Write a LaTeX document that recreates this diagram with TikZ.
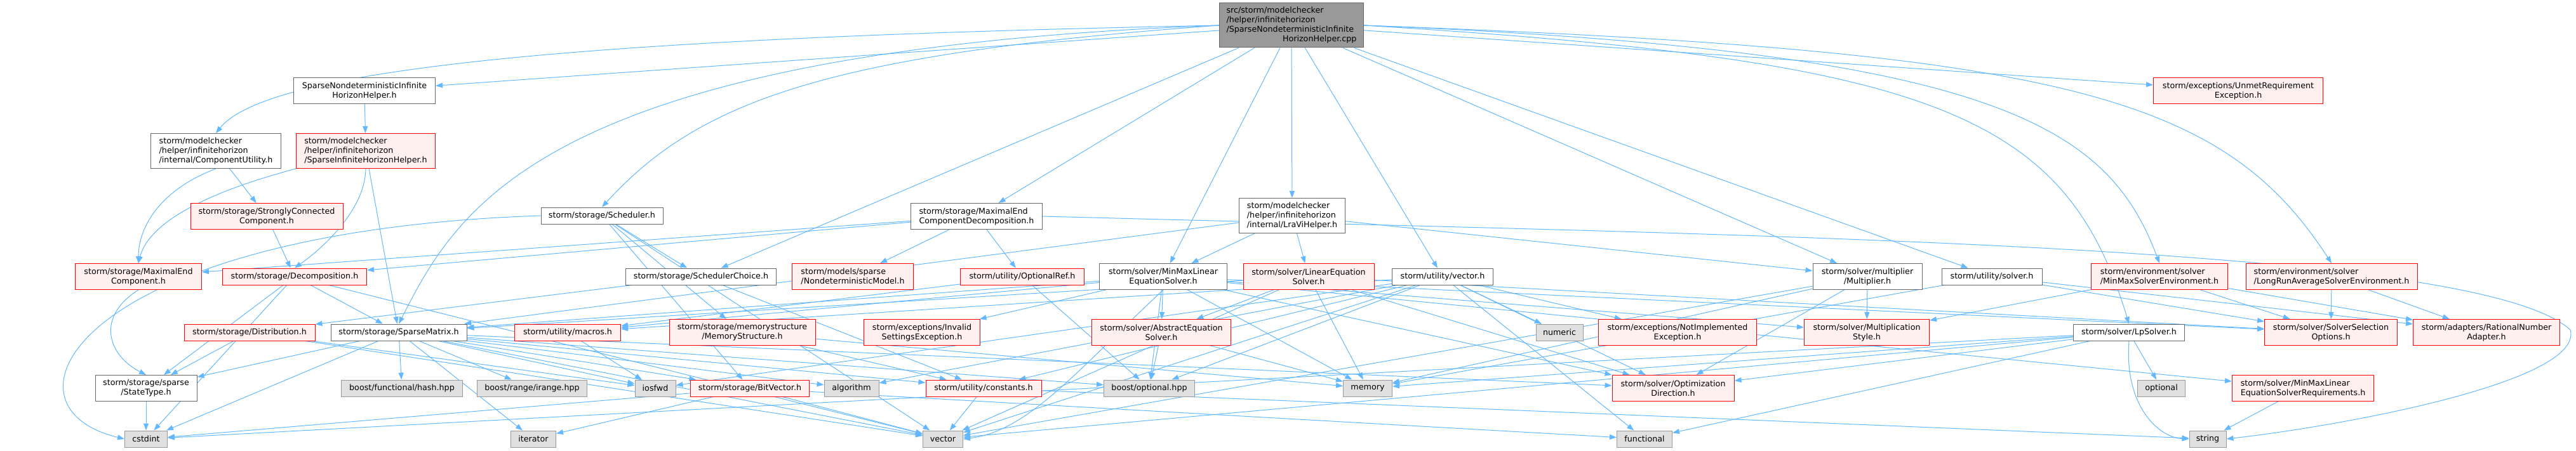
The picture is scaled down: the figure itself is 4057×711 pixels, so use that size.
\documentclass[tikz,border=0pt]{standalone}
\usepackage{fontspec}
\setmainfont{DejaVu Sans}
\usepackage{xcolor}
\usepackage{tikz}
\usetikzlibrary{arrows.meta,backgrounds}
\definecolor{edgeblue}{HTML}{63B8FF}
\definecolor{greyforty}{HTML}{666666}
\definecolor{greysixty}{HTML}{999999}
\definecolor{sysfill}{HTML}{E0E0E0}
\definecolor{redfill}{HTML}{FFF0F0}

\begin{document}
\begin{tikzpicture}[x=1pt,y=-1pt,
  hdr/.style={draw=greyforty,fill=white,line width=1pt,inner sep=0pt,
    minimum height=26pt,align=center,font=\fontsize{12.7}{15}\selectfont},
  redhdr/.style={hdr,draw=red,fill=redfill},
  syshdr/.style={hdr,draw=greysixty,fill=sysfill},
  roothdr/.style={hdr,fill=greysixty},
  two/.style={minimum height=41pt},
  three/.style={minimum height=55pt},
  dep/.style={draw=edgeblue,line width=1pt,-{Triangle[length=11pt,width=8pt]}}]
\useasboundingbox (0,0) rectangle (4057,711);
% row 0 and 1
\node[roothdr,minimum width=227pt,minimum height=70pt,text width=205pt,align=left] (cpp) at (2034,40)
  {src/storm/modelchecker\\/helper/infinitehorizon\\/SparseNondeterministicInfinite\\\hspace*{\fill}HorizonHelper.cpp\hspace*{\fill}};
\node[hdr,two,minimum width=223pt] (snihh) at (574,143) {SparseNondeterministicInfinite\\HorizonHelper.h};
\node[redhdr,two,minimum width=267pt] (unmet) at (3525,143) {storm/exceptions/UnmetRequirement\\Exception.h};
% row 2 and 3
\node[hdr,three,minimum width=205pt,align=left] (cu) at (340,238) {storm/modelchecker\\/helper/infinitehorizon\\/internal/ComponentUtility.h};
\node[redhdr,three,minimum width=219pt,align=left] (sihh) at (576,238) {storm/modelchecker\\/helper/infinitehorizon\\/SparseInfiniteHorizonHelper.h};
\node[redhdr,two,minimum width=240pt] (scc) at (420,341) {storm/storage/StronglyConnected\\Component.h};
\node[hdr,minimum width=192pt] (sched) at (948,340) {storm/storage/Scheduler.h};
\node[hdr,two,minimum width=207pt,align=left] (mecd) at (1538,341) {storm/storage/MaximalEnd\\ComponentDecomposition.h};
\node[hdr,three,minimum width=167pt,align=left] (lravi) at (2035,340) {storm/modelchecker\\/helper/infinitehorizon\\/internal/LraViHelper.h};
% row 4
\node[redhdr,two,minimum width=199pt] (mec) at (218,436) {storm/storage/MaximalEnd\\Component.h};
\node[redhdr,minimum width=227pt] (decomp) at (464,436) {storm/storage/Decomposition.h};
\node[hdr,minimum width=237pt] (schedch) at (1104,436) {storm/storage/SchedulerChoice.h};
\node[redhdr,two,minimum width=191pt,align=left] (nondet) at (1343,436) {storm/models/sparse\\/NondeterministicModel.h};
\node[redhdr,minimum width=195pt] (optref) at (1610,436) {storm/utility/OptionalRef.h};
\node[hdr,two,minimum width=201pt] (minmax) at (1832,436) {storm/solver/MinMaxLinear\\EquationSolver.h};
\node[redhdr,two,minimum width=206pt] (lineq) at (2061,436) {storm/solver/LinearEquation\\Solver.h};
\node[hdr,minimum width=159pt] (uvec) at (2272,436) {storm/utility/vector.h};
\node[hdr,two,minimum width=172pt] (mult) at (2941,436) {storm/solver/multiplier\\/Multiplier.h};
\node[hdr,minimum width=158pt] (usolver) at (3137,436) {storm/utility/solver.h};
\node[redhdr,two,minimum width=215pt,align=left] (mmsenv) at (3401,436) {storm/environment/solver\\/MinMaxSolverEnvironment.h};
\node[redhdr,two,minimum width=270pt,align=left] (lraenv) at (3672,436) {storm/environment/solver\\/LongRunAverageSolverEnvironment.h};
% row 5
\node[redhdr,minimum width=206pt] (distr) at (393,524) {storm/storage/Distribution.h};
\node[hdr,minimum width=214pt] (spmat) at (628,524) {storm/storage/SparseMatrix.h};
\node[redhdr,minimum width=167pt] (macros) at (894,524) {storm/utility/macros.h};
\node[redhdr,two,minimum width=230pt] (memstr) at (1169,524) {storm/storage/memorystructure\\/MemoryStructure.h};
\node[redhdr,two,minimum width=183pt] (invset) at (1452,524) {storm/exceptions/Invalid\\SettingsException.h};
\node[redhdr,two,minimum width=219pt] (abses) at (1829,524) {storm/solver/AbstractEquation\\Solver.h};
\node[syshdr,minimum width=74pt] (numeric) at (2456,524) {numeric};
\node[redhdr,two,minimum width=249pt] (notimpl) at (2642,524) {storm/exceptions/NotImplemented\\Exception.h};
\node[redhdr,two,minimum width=197pt] (multstyle) at (2940,524) {storm/solver/Multiplication\\Style.h};
\node[hdr,minimum width=175pt] (lp) at (3353,524) {storm/solver/LpSolver.h};
\node[redhdr,two,minimum width=209pt] (solvsel) at (3671,524) {storm/solver/SolverSelection\\Options.h};
\node[redhdr,two,minimum width=231pt] (ratnum) at (3916,524) {storm/adapters/RationalNumber\\Adapter.h};
% row 6
\node[hdr,two,minimum width=160pt] (statetype) at (230,612) {storm/storage/sparse\\/StateType.h};
\node[syshdr,minimum width=191pt] (hash) at (633,612) {boost/functional/hash.hpp};
\node[syshdr,minimum width=173pt] (irange) at (838,612) {boost/range/irange.hpp};
\node[syshdr,minimum width=64pt] (iosfwd) at (1032,612) {iosfwd};
\node[redhdr,minimum width=187pt] (bitvec) at (1181,612) {storm/storage/BitVector.h};
\node[syshdr,minimum width=86pt] (algorithm) at (1341,612) {algorithm};
\node[redhdr,minimum width=182pt] (constants) at (1549,612) {storm/utility/constants.h};
\node[syshdr,minimum width=143pt] (boostopt) at (1810,612) {boost/optional.hpp};
\node[syshdr,minimum width=77pt] (memory) at (2154,612) {memory};
\node[redhdr,two,minimum width=192pt] (optdir) at (2635,612) {storm/solver/Optimization\\Direction.h};
\node[syshdr,minimum width=75pt] (optional) at (3404,612) {optional};
\node[redhdr,two,minimum width=223pt,align=left] (mmreq) at (3627,612) {storm/solver/MinMaxLinear\\EquationSolverRequirements.h};
% row 7
\node[syshdr,minimum width=67pt] (cstdint) at (230,692) {cstdint};
\node[syshdr,minimum width=71pt] (iterator) at (840,692) {iterator};
\node[syshdr,minimum width=63pt] (vector) at (1485,692) {vector};
\node[syshdr,minimum width=87pt] (functional) at (2590,692) {functional};
\node[syshdr,minimum width=58pt] (string) at (3477,692) {string};
\begin{scope}[on background layer]
\draw[dep] (cpp)--(snihh);
\draw[dep] (cpp.west) .. controls (900,60) and (420,110) .. (cu.north);
\draw[dep] (cpp.west) .. controls (850,80) and (720,330) .. (spmat.north);
\draw[dep] (cpp.west) .. controls (1300,85) and (1100,160) .. (sched.north);
\draw[dep] (cpp)--(schedch);
\draw[dep] (cpp)--(mecd);
\draw[dep] (cpp)--(minmax);
\draw[dep] (cpp)--(lravi);
\draw[dep] (cpp)--(uvec);
\draw[dep] (cpp)--(mult);
\draw[dep] (cpp)--(usolver);
\draw[dep] (cpp.east) .. controls (3050,95) and (3253,180) .. (lp.north);
\draw[dep] (cpp.east) .. controls (3150,80) and (3320,200) .. (mmsenv.north);
\draw[dep] (cpp.east) .. controls (3250,80) and (3500,150) .. (lraenv.north);
\draw[dep] (cpp)--(unmet);
\draw[dep] (snihh)--(sihh);
\draw[dep] (cu)--(scc);
\draw[dep] (cu.south) .. controls (250,300) and (218,360) .. (mec.north);
\draw[dep] (sihh.south west) .. controls (300,310) and (232,360) .. (mec.north);
\draw[dep] (sihh.south) .. controls (575,330) and (510,390) .. (decomp.north);
\draw[dep] (sihh)--(spmat);
\draw[dep] (scc)--(decomp);
\draw[dep] (sched)--(schedch);
\draw[dep] (sched)--(memstr);
\draw[dep] (sched)--(bitvec);
\draw[dep] (sched.west) .. controls (120,365) and (-20,640) .. (cstdint.west);
\draw[dep] (sched)--(vector);
\draw[dep] (mecd)--(mec);
\draw[dep] (mecd)--(decomp);
\draw[dep] (mecd)--(nondet);
\draw[dep] (mecd)--(optref);
\draw[dep] (mecd.east) .. controls (2800,372) and (3900,385) .. (4048,520) .. controls (4070,600) and (3700,670) .. (string.east);
\draw[dep] (lravi)--(minmax);
\draw[dep] (lravi)--(lineq);
\draw[dep] (lravi)--(mult);
\draw[dep] (lravi)--(spmat);
\draw[dep] (mec.south) .. controls (150,500) and (170,560) .. (statetype.north);
\draw[dep] (decomp)--(spmat);
\draw[dep] (decomp)--(statetype);
\draw[dep] (decomp)--(cstdint);
\draw[dep] (decomp)--(vector);
\draw[dep] (schedch)--(distr);
\draw[dep] (schedch)--(constants);
\draw[dep] (distr)--(statetype);
\draw[dep] (distr)--(vector);
\draw[dep] (distr)--(iosfwd);
\draw[dep] (spmat)--(statetype);
\draw[dep] (spmat)--(cstdint);
\draw[dep] (spmat)--(iterator);
\draw[dep] (spmat)--(hash);
\draw[dep] (spmat)--(irange);
\draw[dep] (spmat)--(iosfwd);
\draw[dep] (spmat)--(bitvec);
\draw[dep] (spmat)--(algorithm);
\draw[dep] (spmat)--(constants);
\draw[dep] (spmat)--(boostopt);
\draw[dep] (spmat)--(vector);
\draw[dep] (spmat)--(optdir);
\draw[dep] (macros)--(iosfwd);
\draw[dep] (memstr)--(constants);
\draw[dep] (memstr)--(memory);
\draw[dep] (bitvec)--(iterator);
\draw[dep] (bitvec)--(cstdint);
\draw[dep] (bitvec)--(vector);
\draw[dep] (bitvec)--(functional);
\draw[dep] (constants)--(vector);
\draw[dep] (constants)--(string);
\draw[dep] (optref)--(boostopt);
\draw[dep] (optref)--(macros);
\draw[dep] (minmax)--(abses);
\draw[dep] (minmax)--(invset);
\draw[dep] (minmax.south) .. controls (1700,580) and (1620,680) .. (vector.east);
\draw[dep] (minmax)--(boostopt);
\draw[dep] (minmax)--(optdir);
\draw[dep] (minmax)--(mmreq);
\draw[dep] (minmax)--(solvsel);
\draw[dep] (minmax)--(spmat);
\draw[dep] (minmax)--(macros);
\draw[dep] (minmax)--(memory);
\draw[dep] (minmax)--(multstyle);
\draw[dep] (lineq)--(abses);
\draw[dep] (lineq)--(memory);
\draw[dep] (lineq)--(vector);
\draw[dep] (lineq)--(optdir);
\draw[dep] (lineq)--(solvsel);
\draw[dep] (lineq)--(spmat);
\draw[dep] (uvec)--(numeric);
\draw[dep] (uvec)--(notimpl);
\draw[dep] (uvec)--(constants);
\draw[dep] (uvec)--(vector);
\draw[dep] (uvec)--(algorithm);
\draw[dep] (uvec)--(functional);
\draw[dep] (uvec)--(boostopt);
\draw[dep] (uvec)--(optdir);
\draw[dep] (uvec)--(macros);
\draw[dep] (uvec)--(iosfwd);
\draw[dep] (mult)--(multstyle);
\draw[dep] (mult)--(optdir);
\draw[dep] (mult)--(memory);
\draw[dep] (mult)--(vector);
\draw[dep] (usolver)--(memory);
\draw[dep] (usolver)--(solvsel);
\draw[dep] (usolver)--(ratnum);
\draw[dep] (mmsenv)--(multstyle);
\draw[dep] (mmsenv)--(solvsel);
\draw[dep] (mmsenv)--(ratnum);
\draw[dep] (lraenv)--(solvsel);
\draw[dep] (lraenv)--(ratnum);
\draw[dep] (lp)--(optdir);
\draw[dep] (lp)--(memory);
\draw[dep] (lp)--(vector);
\draw[dep] (lp)--(cstdint);
\draw[dep] (lp)--(optional);
\draw[dep] (lp.south) .. controls (3345,640) and (3400,690) .. (string.west);
\draw[dep] (lp)--(functional);
\draw[dep] (abses)--(boostopt);
\draw[dep] (abses)--(memory);
\draw[dep] (mmreq)--(string);
\draw[dep] (statetype)--(cstdint);
\end{scope}
\end{tikzpicture}
\end{document}
